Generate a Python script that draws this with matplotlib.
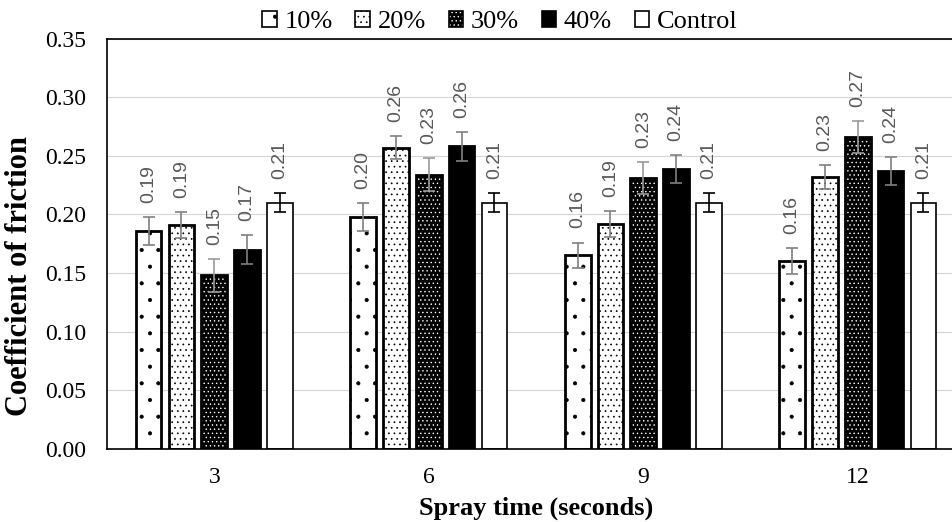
import numpy as np
import matplotlib
matplotlib.use("Agg")
import matplotlib.pyplot as plt
from matplotlib.patches import Patch
from matplotlib.legend_handler import HandlerTuple

# data
spray_times = ["3", "6", "9", "12"]
series = ["10%", "20%", "30%", "40%", "Control"]
friction = {
    "10%": [0.186, 0.198, 0.165, 0.160],
    "20%": [0.191, 0.257, 0.192, 0.232],
    "30%": [0.148, 0.234, 0.231, 0.266],
    "40%": [0.170, 0.258, 0.239, 0.237],
    "Control": [0.210, 0.210, 0.210, 0.210],
}
errors = {
    "10%": [0.012, 0.012, 0.011, 0.011],
    "20%": [0.011, 0.010, 0.011, 0.010],
    "30%": [0.014, 0.014, 0.014, 0.014],
    "40%": [0.012, 0.012, 0.012, 0.012],
    "Control": [0.008, 0.008, 0.008, 0.008],
}
value_labels = {
    "10%": ["0.19", "0.20", "0.16", "0.16"],
    "20%": ["0.19", "0.26", "0.19", "0.23"],
    "30%": ["0.15", "0.23", "0.23", "0.27"],
    "40%": ["0.17", "0.26", "0.24", "0.24"],
    "Control": ["0.21", "0.21", "0.21", "0.21"],
}

plt.rcParams["font.family"] = ["Liberation Serif", "DejaVu Serif"]
plt.rcParams["hatch.linewidth"] = 0.5

# face, hatch colour, hatch, edge width, error colour
styles = {
    "10%": ("white", "black", ".", 2.0, "#808080"),
    "20%": ("white", "black", "...", 2.0, "#808080"),
    "30%": ("black", "white", "....", 2.0, "#9a9a9a"),
    "40%": ("black", "black", None, 2.0, "#808080"),
    "Control": ("white", "black", None, 1.2, "black"),
}

fig = plt.figure(figsize=(9.52, 5.22), dpi=100)
ax = fig.add_axes([0.1124, 0.1404, 0.9013, 0.7855])

x = np.arange(len(spray_times))
pitch = 0.153
width = 0.12
handles = []
for i, name in enumerate(series):
    face, hcol, hatch, lw, ecol = styles[name]
    pos = x + (i - 2) * pitch
    vals = friction[name]
    ax.bar(pos, vals, width, color=face, edgecolor=hcol, hatch=hatch,
           linewidth=0, zorder=2)
    ax.bar(pos, vals, width, fill=False, edgecolor="black",
           linewidth=lw, zorder=3)
    ax.errorbar(pos, vals, yerr=errors[name], fmt="none", ecolor=ecol,
                elinewidth=1.2, capsize=4.5, capthick=1.2, zorder=4)
    for p, v, e, t in zip(pos, vals, errors[name], value_labels[name]):
        ax.text(p, v + e + 0.012, t, rotation=90, ha="center", va="bottom",
                fontsize=14, color="#595959", family="Liberation Sans")
    handles.append((Patch(facecolor=face, edgecolor=hcol, hatch=hatch, linewidth=0),
                    Patch(fill=False, edgecolor="black", linewidth=1.2)))

ax.set_xlim(-0.5, 3.5)
ax.set_ylim(0, 0.35)
ax.set_yticks(np.arange(0, 0.351, 0.05))
ax.set_yticklabels([f"{t:.2f}" for t in np.arange(0, 0.351, 0.05)])
ax.set_xticks(x)
ax.set_xticklabels(spray_times)
ax.tick_params(length=0, labelsize=17)
ax.tick_params(axis="x", pad=13)
ax.tick_params(axis="y", pad=15)
ax.yaxis.grid(True, color="#d4d4d4", linewidth=0.8, zorder=0)
ax.set_axisbelow(True)
for s in ax.spines.values():
    s.set_linewidth(1.2)

ax.set_xlabel("Spray time (seconds)", fontsize=19, fontweight="bold", labelpad=6)
ax.set_ylabel("Coefficient of friction", fontsize=22, fontweight="bold")
ax.yaxis.set_label_coords(-0.085, 0.42)

fig.legend(handles, series, loc="upper center", bbox_to_anchor=(500 / 952, 1.025),
           ncol=5, frameon=False, fontsize=19, handlelength=0.55, handleheight=0.55,
           handletextpad=0.3, columnspacing=0.85,
           handler_map={tuple: HandlerTuple(ndivide=1)})

fig.savefig("out.png", dpi=100)
